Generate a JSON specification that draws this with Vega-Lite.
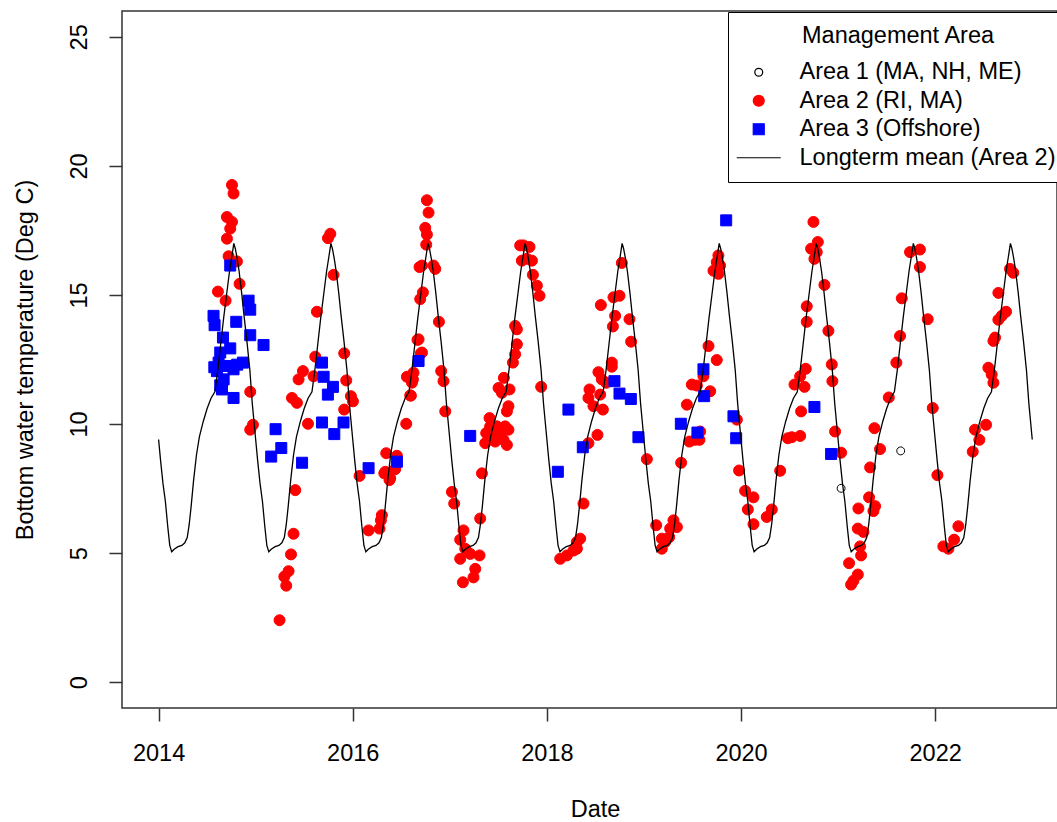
{
  "$schema": "https://vega.github.io/schema/vega-lite/v6.json",
  "autosize": {"type": "none"},
  "padding": {"left": 122, "top": 11, "right": 0, "bottom": 114},
  "width": 935,
  "height": 697,
  "background": "white",
  "datasets": {
    "yrs": [{"year":2015},{"year":2016},{"year":2017},{"year":2018},{"year":2019},{"year":2020},{"year":2021},{"year":2022},{"year":2023}],
    "obs": [
      {"year":2014.756,"temp":19.26,"area":"Area 2 (RI, MA)"},{"year":2014.772,"temp":18.93,"area":"Area 2 (RI, MA)"},{"year":2014.704,"temp":18.02,"area":"Area 2 (RI, MA)"},{"year":2014.756,"temp":17.83,"area":"Area 2 (RI, MA)"},{"year":2014.738,"temp":17.57,"area":"Area 2 (RI, MA)"},{"year":2014.704,"temp":17.18,"area":"Area 2 (RI, MA)"},{"year":2014.721,"temp":16.5,"area":"Area 2 (RI, MA)"},{"year":2014.807,"temp":16.3,"area":"Area 2 (RI, MA)"},{"year":2014.834,"temp":15.43,"area":"Area 2 (RI, MA)"},{"year":2014.611,"temp":15.13,"area":"Area 2 (RI, MA)"},{"year":2014.69,"temp":14.78,"area":"Area 2 (RI, MA)"},{"year":2014.944,"temp":11.25,"area":"Area 2 (RI, MA)"},{"year":2014.972,"temp":9.97,"area":"Area 2 (RI, MA)"},{"year":2014.944,"temp":9.78,"area":"Area 2 (RI, MA)"},
      {"year":2015.631,"temp":14.35,"area":"Area 2 (RI, MA)"},{"year":2015.614,"temp":12.61,"area":"Area 2 (RI, MA)"},{"year":2015.596,"temp":11.85,"area":"Area 2 (RI, MA)"},{"year":2015.487,"temp":12.05,"area":"Area 2 (RI, MA)"},{"year":2015.442,"temp":11.73,"area":"Area 2 (RI, MA)"},{"year":2015.374,"temp":11.01,"area":"Area 2 (RI, MA)"},{"year":2015.425,"temp":10.82,"area":"Area 2 (RI, MA)"},{"year":2015.539,"temp":10.01,"area":"Area 2 (RI, MA)"},{"year":2015.769,"temp":17.37,"area":"Area 2 (RI, MA)"},{"year":2015.745,"temp":17.2,"area":"Area 2 (RI, MA)"},{"year":2015.802,"temp":15.78,"area":"Area 2 (RI, MA)"},{"year":2015.408,"temp":7.44,"area":"Area 2 (RI, MA)"},{"year":2015.39,"temp":5.75,"area":"Area 2 (RI, MA)"},{"year":2015.364,"temp":4.95,"area":"Area 2 (RI, MA)"},{"year":2015.339,"temp":4.3,"area":"Area 2 (RI, MA)"},{"year":2015.295,"temp":4.09,"area":"Area 2 (RI, MA)"},{"year":2015.315,"temp":3.74,"area":"Area 2 (RI, MA)"},{"year":2015.246,"temp":2.4,"area":"Area 2 (RI, MA)"},{"year":2015.912,"temp":12.74,"area":"Area 2 (RI, MA)"},{"year":2015.933,"temp":11.69,"area":"Area 2 (RI, MA)"},{"year":2015.981,"temp":11.08,"area":"Area 2 (RI, MA)"},{"year":2016.002,"temp":10.88,"area":"Area 2 (RI, MA)"},{"year":2015.912,"temp":10.56,"area":"Area 2 (RI, MA)"},
      {"year":2016.07,"temp":7.99,"area":"Area 2 (RI, MA)"},{"year":2016.163,"temp":5.88,"area":"Area 2 (RI, MA)"},{"year":2016.276,"temp":5.95,"area":"Area 2 (RI, MA)"},{"year":2016.3,"temp":6.47,"area":"Area 2 (RI, MA)"},{"year":2016.29,"temp":6.27,"area":"Area 2 (RI, MA)"},{"year":2016.345,"temp":8.87,"area":"Area 2 (RI, MA)"},{"year":2016.325,"temp":8.09,"area":"Area 2 (RI, MA)"},{"year":2016.379,"temp":7.83,"area":"Area 2 (RI, MA)"},{"year":2016.437,"temp":8.25,"area":"Area 2 (RI, MA)"},{"year":2016.455,"temp":8.77,"area":"Area 2 (RI, MA)"},{"year":2016.551,"temp":10.01,"area":"Area 2 (RI, MA)"},{"year":2016.599,"temp":11.1,"area":"Area 2 (RI, MA)"},{"year":2016.558,"temp":11.83,"area":"Area 2 (RI, MA)"},{"year":2016.62,"temp":11.73,"area":"Area 2 (RI, MA)"},{"year":2016.626,"temp":11.99,"area":"Area 2 (RI, MA)"},{"year":2016.678,"temp":13.28,"area":"Area 2 (RI, MA)"},{"year":2016.713,"temp":12.77,"area":"Area 2 (RI, MA)"},{"year":2016.695,"temp":14.84,"area":"Area 2 (RI, MA)"},{"year":2016.764,"temp":18.67,"area":"Area 2 (RI, MA)"},{"year":2016.781,"temp":18.19,"area":"Area 2 (RI, MA)"},{"year":2016.747,"temp":17.6,"area":"Area 2 (RI, MA)"},{"year":2016.764,"temp":17.34,"area":"Area 2 (RI, MA)"},{"year":2016.757,"temp":16.95,"area":"Area 2 (RI, MA)"},{"year":2016.688,"temp":16.08,"area":"Area 2 (RI, MA)"},{"year":2016.713,"temp":16.14,"area":"Area 2 (RI, MA)"},{"year":2016.832,"temp":16.14,"area":"Area 2 (RI, MA)"},{"year":2016.85,"temp":16.01,"area":"Area 2 (RI, MA)"},{"year":2016.723,"temp":15.1,"area":"Area 2 (RI, MA)"},{"year":2016.888,"temp":13.96,"area":"Area 2 (RI, MA)"},{"year":2016.667,"temp":13.26,"area":"Area 2 (RI, MA)"},{"year":2016.702,"temp":12.74,"area":"Area 2 (RI, MA)"},{"year":2016.592,"temp":11.11,"area":"Area 2 (RI, MA)"},{"year":2016.61,"temp":11.6,"area":"Area 2 (RI, MA)"},{"year":2016.911,"temp":12.05,"area":"Area 2 (RI, MA)"},{"year":2016.935,"temp":11.66,"area":"Area 2 (RI, MA)"},{"year":2016.953,"temp":10.49,"area":"Area 2 (RI, MA)"},{"year":2016.335,"temp":8.15,"area":"Area 2 (RI, MA)"},{"year":2016.386,"temp":7.9,"area":"Area 2 (RI, MA)"},
      {"year":2017.022,"temp":7.37,"area":"Area 2 (RI, MA)"},{"year":2017.045,"temp":6.92,"area":"Area 2 (RI, MA)"},{"year":2017.141,"temp":5.88,"area":"Area 2 (RI, MA)"},{"year":2017.107,"temp":5.52,"area":"Area 2 (RI, MA)"},{"year":2017.159,"temp":5.17,"area":"Area 2 (RI, MA)"},{"year":2017.107,"temp":4.78,"area":"Area 2 (RI, MA)"},{"year":2017.21,"temp":4.97,"area":"Area 2 (RI, MA)"},{"year":2017.306,"temp":4.91,"area":"Area 2 (RI, MA)"},{"year":2017.262,"temp":4.39,"area":"Area 2 (RI, MA)"},{"year":2017.244,"temp":4.06,"area":"Area 2 (RI, MA)"},{"year":2017.135,"temp":3.87,"area":"Area 2 (RI, MA)"},{"year":2017.313,"temp":6.34,"area":"Area 2 (RI, MA)"},{"year":2017.331,"temp":8.09,"area":"Area 2 (RI, MA)"},{"year":2017.365,"temp":9.26,"area":"Area 2 (RI, MA)"},{"year":2017.375,"temp":9.65,"area":"Area 2 (RI, MA)"},{"year":2017.409,"temp":10.23,"area":"Area 2 (RI, MA)"},{"year":2017.415,"temp":9.9,"area":"Area 2 (RI, MA)"},{"year":2017.485,"temp":9.91,"area":"Area 2 (RI, MA)"},{"year":2017.519,"temp":9.65,"area":"Area 2 (RI, MA)"},{"year":2017.553,"temp":9.39,"area":"Area 2 (RI, MA)"},{"year":2017.588,"temp":9.19,"area":"Area 2 (RI, MA)"},{"year":2017.45,"temp":9.58,"area":"Area 2 (RI, MA)"},{"year":2017.468,"temp":9.32,"area":"Area 2 (RI, MA)"},{"year":2017.57,"temp":9.91,"area":"Area 2 (RI, MA)"},{"year":2017.604,"temp":9.78,"area":"Area 2 (RI, MA)"},{"year":2017.588,"temp":10.49,"area":"Area 2 (RI, MA)"},{"year":2017.604,"temp":10.69,"area":"Area 2 (RI, MA)"},{"year":2017.537,"temp":11.21,"area":"Area 2 (RI, MA)"},{"year":2017.615,"temp":11.34,"area":"Area 2 (RI, MA)"},{"year":2017.557,"temp":11.79,"area":"Area 2 (RI, MA)"},{"year":2017.502,"temp":11.4,"area":"Area 2 (RI, MA)"},{"year":2017.65,"temp":12.38,"area":"Area 2 (RI, MA)"},{"year":2017.673,"temp":12.7,"area":"Area 2 (RI, MA)"},{"year":2017.691,"temp":13.09,"area":"Area 2 (RI, MA)"},{"year":2017.691,"temp":13.67,"area":"Area 2 (RI, MA)"},{"year":2017.673,"temp":13.8,"area":"Area 2 (RI, MA)"},{"year":2017.725,"temp":16.92,"area":"Area 2 (RI, MA)"},{"year":2017.759,"temp":16.92,"area":"Area 2 (RI, MA)"},{"year":2017.821,"temp":16.86,"area":"Area 2 (RI, MA)"},{"year":2017.742,"temp":16.33,"area":"Area 2 (RI, MA)"},{"year":2017.794,"temp":16.4,"area":"Area 2 (RI, MA)"},{"year":2017.846,"temp":16.33,"area":"Area 2 (RI, MA)"},{"year":2017.856,"temp":15.78,"area":"Area 2 (RI, MA)"},{"year":2017.897,"temp":15.36,"area":"Area 2 (RI, MA)"},{"year":2017.924,"temp":14.97,"area":"Area 2 (RI, MA)"},{"year":2017.941,"temp":11.44,"area":"Area 2 (RI, MA)"},
      {"year":2018.137,"temp":4.78,"area":"Area 2 (RI, MA)"},{"year":2018.206,"temp":4.91,"area":"Area 2 (RI, MA)"},{"year":2018.309,"temp":5.43,"area":"Area 2 (RI, MA)"},{"year":2018.309,"temp":5.17,"area":"Area 2 (RI, MA)"},{"year":2018.274,"temp":5.1,"area":"Area 2 (RI, MA)"},{"year":2018.343,"temp":5.56,"area":"Area 2 (RI, MA)"},{"year":2018.377,"temp":6.92,"area":"Area 2 (RI, MA)"},{"year":2018.428,"temp":9.26,"area":"Area 2 (RI, MA)"},{"year":2018.521,"temp":9.58,"area":"Area 2 (RI, MA)"},{"year":2018.577,"temp":10.56,"area":"Area 2 (RI, MA)"},{"year":2018.48,"temp":10.69,"area":"Area 2 (RI, MA)"},{"year":2018.549,"temp":11.14,"area":"Area 2 (RI, MA)"},{"year":2018.428,"temp":11.01,"area":"Area 2 (RI, MA)"},{"year":2018.439,"temp":11.34,"area":"Area 2 (RI, MA)"},{"year":2018.611,"temp":11.6,"area":"Area 2 (RI, MA)"},{"year":2018.566,"temp":11.73,"area":"Area 2 (RI, MA)"},{"year":2018.531,"temp":12.01,"area":"Area 2 (RI, MA)"},{"year":2018.669,"temp":12.38,"area":"Area 2 (RI, MA)"},{"year":2018.669,"temp":12.22,"area":"Area 2 (RI, MA)"},{"year":2018.868,"temp":13.19,"area":"Area 2 (RI, MA)"},{"year":2018.851,"temp":14.06,"area":"Area 2 (RI, MA)"},{"year":2018.68,"temp":13.78,"area":"Area 2 (RI, MA)"},{"year":2018.703,"temp":14.19,"area":"Area 2 (RI, MA)"},{"year":2018.556,"temp":14.61,"area":"Area 2 (RI, MA)"},{"year":2018.686,"temp":14.91,"area":"Area 2 (RI, MA)"},{"year":2018.748,"temp":14.97,"area":"Area 2 (RI, MA)"},{"year":2018.772,"temp":16.24,"area":"Area 2 (RI, MA)"},
      {"year":2019.03,"temp":8.64,"area":"Area 2 (RI, MA)"},{"year":2019.126,"temp":6.08,"area":"Area 2 (RI, MA)"},{"year":2019.184,"temp":5.56,"area":"Area 2 (RI, MA)"},{"year":2019.218,"temp":5.43,"area":"Area 2 (RI, MA)"},{"year":2019.184,"temp":5.17,"area":"Area 2 (RI, MA)"},{"year":2019.27,"temp":5.95,"area":"Area 2 (RI, MA)"},{"year":2019.304,"temp":6.27,"area":"Area 2 (RI, MA)"},{"year":2019.339,"temp":6.01,"area":"Area 2 (RI, MA)"},{"year":2019.26,"temp":5.62,"area":"Area 2 (RI, MA)"},{"year":2019.383,"temp":8.5,"area":"Area 2 (RI, MA)"},{"year":2019.442,"temp":10.75,"area":"Area 2 (RI, MA)"},{"year":2019.493,"temp":11.53,"area":"Area 2 (RI, MA)"},{"year":2019.545,"temp":11.49,"area":"Area 2 (RI, MA)"},{"year":2019.468,"temp":9.32,"area":"Area 2 (RI, MA)"},{"year":2019.527,"temp":9.39,"area":"Area 2 (RI, MA)"},{"year":2019.579,"temp":9.71,"area":"Area 2 (RI, MA)"},{"year":2019.572,"temp":9.39,"area":"Area 2 (RI, MA)"},{"year":2019.682,"temp":11.27,"area":"Area 2 (RI, MA)"},{"year":2019.613,"temp":11.85,"area":"Area 2 (RI, MA)"},{"year":2019.665,"temp":13.02,"area":"Area 2 (RI, MA)"},{"year":2019.75,"temp":12.48,"area":"Area 2 (RI, MA)"},{"year":2019.767,"temp":16.53,"area":"Area 2 (RI, MA)"},{"year":2019.784,"temp":16.14,"area":"Area 2 (RI, MA)"},{"year":2019.716,"temp":15.94,"area":"Area 2 (RI, MA)"},{"year":2019.767,"temp":15.82,"area":"Area 2 (RI, MA)"},{"year":2019.75,"temp":16.27,"area":"Area 2 (RI, MA)"},{"year":2019.957,"temp":10.17,"area":"Area 2 (RI, MA)"},{"year":2019.98,"temp":8.2,"area":"Area 2 (RI, MA)"},
      {"year":2020.042,"temp":7.41,"area":"Area 2 (RI, MA)"},{"year":2020.128,"temp":7.16,"area":"Area 2 (RI, MA)"},{"year":2020.07,"temp":6.69,"area":"Area 2 (RI, MA)"},{"year":2020.128,"temp":6.12,"area":"Area 2 (RI, MA)"},{"year":2020.265,"temp":6.4,"area":"Area 2 (RI, MA)"},{"year":2020.317,"temp":6.69,"area":"Area 2 (RI, MA)"},{"year":2020.403,"temp":8.19,"area":"Area 2 (RI, MA)"},{"year":2020.482,"temp":9.45,"area":"Area 2 (RI, MA)"},{"year":2020.523,"temp":9.49,"area":"Area 2 (RI, MA)"},{"year":2020.609,"temp":9.54,"area":"Area 2 (RI, MA)"},{"year":2020.619,"temp":10.49,"area":"Area 2 (RI, MA)"},{"year":2020.667,"temp":12.14,"area":"Area 2 (RI, MA)"},{"year":2020.609,"temp":11.85,"area":"Area 2 (RI, MA)"},{"year":2020.551,"temp":11.53,"area":"Area 2 (RI, MA)"},{"year":2020.654,"temp":11.44,"area":"Area 2 (RI, MA)"},{"year":2020.677,"temp":14.56,"area":"Area 2 (RI, MA)"},{"year":2020.677,"temp":13.96,"area":"Area 2 (RI, MA)"},{"year":2020.746,"temp":17.83,"area":"Area 2 (RI, MA)"},{"year":2020.791,"temp":17.05,"area":"Area 2 (RI, MA)"},{"year":2020.722,"temp":16.79,"area":"Area 2 (RI, MA)"},{"year":2020.756,"temp":16.4,"area":"Area 2 (RI, MA)"},{"year":2020.78,"temp":16.66,"area":"Area 2 (RI, MA)"},{"year":2020.859,"temp":15.39,"area":"Area 2 (RI, MA)"},{"year":2020.9,"temp":13.61,"area":"Area 2 (RI, MA)"},{"year":2020.935,"temp":12.31,"area":"Area 2 (RI, MA)"},{"year":2020.941,"temp":11.66,"area":"Area 2 (RI, MA)"},{"year":2020.969,"temp":9.71,"area":"Area 2 (RI, MA)"},
      {"year":2021.031,"temp":8.89,"area":"Area 2 (RI, MA)"},{"year":2021.209,"temp":6.73,"area":"Area 2 (RI, MA)"},{"year":2021.319,"temp":7.16,"area":"Area 2 (RI, MA)"},{"year":2021.381,"temp":6.82,"area":"Area 2 (RI, MA)"},{"year":2021.364,"temp":6.63,"area":"Area 2 (RI, MA)"},{"year":2021.203,"temp":5.95,"area":"Area 2 (RI, MA)"},{"year":2021.261,"temp":5.82,"area":"Area 2 (RI, MA)"},{"year":2021.227,"temp":5.26,"area":"Area 2 (RI, MA)"},{"year":2021.237,"temp":4.91,"area":"Area 2 (RI, MA)"},{"year":2021.113,"temp":4.61,"area":"Area 2 (RI, MA)"},{"year":2021.203,"temp":4.17,"area":"Area 2 (RI, MA)"},{"year":2021.158,"temp":3.93,"area":"Area 2 (RI, MA)"},{"year":2021.134,"temp":3.78,"area":"Area 2 (RI, MA)"},{"year":2021.33,"temp":8.32,"area":"Area 2 (RI, MA)"},{"year":2021.374,"temp":9.84,"area":"Area 2 (RI, MA)"},{"year":2021.432,"temp":9.03,"area":"Area 2 (RI, MA)"},{"year":2021.522,"temp":11.03,"area":"Area 2 (RI, MA)"},{"year":2021.6,"temp":12.38,"area":"Area 2 (RI, MA)"},{"year":2021.638,"temp":13.41,"area":"Area 2 (RI, MA)"},{"year":2021.656,"temp":14.87,"area":"Area 2 (RI, MA)"},{"year":2021.741,"temp":16.66,"area":"Area 2 (RI, MA)"},{"year":2021.843,"temp":16.76,"area":"Area 2 (RI, MA)"},{"year":2021.843,"temp":16.08,"area":"Area 2 (RI, MA)"},{"year":2021.923,"temp":14.06,"area":"Area 2 (RI, MA)"},{"year":2021.975,"temp":10.62,"area":"Area 2 (RI, MA)"},
      {"year":2022.023,"temp":8.02,"area":"Area 2 (RI, MA)"},{"year":2022.084,"temp":5.26,"area":"Area 2 (RI, MA)"},{"year":2022.136,"temp":5.17,"area":"Area 2 (RI, MA)"},{"year":2022.195,"temp":5.52,"area":"Area 2 (RI, MA)"},{"year":2022.239,"temp":6.04,"area":"Area 2 (RI, MA)"},{"year":2022.387,"temp":8.93,"area":"Area 2 (RI, MA)"},{"year":2022.41,"temp":9.78,"area":"Area 2 (RI, MA)"},{"year":2022.455,"temp":9.39,"area":"Area 2 (RI, MA)"},{"year":2022.524,"temp":9.97,"area":"Area 2 (RI, MA)"},{"year":2022.548,"temp":12.18,"area":"Area 2 (RI, MA)"},{"year":2022.582,"temp":11.92,"area":"Area 2 (RI, MA)"},{"year":2022.6,"temp":11.6,"area":"Area 2 (RI, MA)"},{"year":2022.6,"temp":13.22,"area":"Area 2 (RI, MA)"},{"year":2022.617,"temp":13.35,"area":"Area 2 (RI, MA)"},{"year":2022.651,"temp":14.04,"area":"Area 2 (RI, MA)"},{"year":2022.686,"temp":14.19,"area":"Area 2 (RI, MA)"},{"year":2022.73,"temp":14.35,"area":"Area 2 (RI, MA)"},{"year":2022.651,"temp":15.08,"area":"Area 2 (RI, MA)"},{"year":2022.771,"temp":16.01,"area":"Area 2 (RI, MA)"},{"year":2022.805,"temp":15.86,"area":"Area 2 (RI, MA)"},
      {"year":2014.738,"temp":16.14,"area":"Area 3 (Offshore)"},{"year":2014.927,"temp":14.78,"area":"Area 3 (Offshore)"},{"year":2014.944,"temp":14.43,"area":"Area 3 (Offshore)"},{"year":2014.566,"temp":14.19,"area":"Area 3 (Offshore)"},{"year":2014.577,"temp":13.83,"area":"Area 3 (Offshore)"},{"year":2014.8,"temp":13.96,"area":"Area 3 (Offshore)"},{"year":2014.944,"temp":13.44,"area":"Area 3 (Offshore)"},{"year":2015.081,"temp":13.06,"area":"Area 3 (Offshore)"},{"year":2014.663,"temp":13.35,"area":"Area 3 (Offshore)"},{"year":2014.738,"temp":12.93,"area":"Area 3 (Offshore)"},{"year":2014.635,"temp":12.77,"area":"Area 3 (Offshore)"},{"year":2014.618,"temp":12.38,"area":"Area 3 (Offshore)"},{"year":2014.869,"temp":12.38,"area":"Area 3 (Offshore)"},{"year":2014.772,"temp":12.12,"area":"Area 3 (Offshore)"},{"year":2014.601,"temp":12.05,"area":"Area 3 (Offshore)"},{"year":2014.67,"temp":11.73,"area":"Area 3 (Offshore)"},{"year":2014.653,"temp":11.34,"area":"Area 3 (Offshore)"},{"year":2014.772,"temp":11.01,"area":"Area 3 (Offshore)"},{"year":2014.574,"temp":12.2,"area":"Area 3 (Offshore)"},{"year":2014.7,"temp":12.25,"area":"Area 3 (Offshore)"},{"year":2014.81,"temp":12.3,"area":"Area 3 (Offshore)"},{"year":2014.635,"temp":11.5,"area":"Area 3 (Offshore)"},
      {"year":2015.205,"temp":9.8,"area":"Area 3 (Offshore)"},{"year":2015.264,"temp":9.07,"area":"Area 3 (Offshore)"},{"year":2015.16,"temp":8.74,"area":"Area 3 (Offshore)"},{"year":2015.478,"temp":8.5,"area":"Area 3 (Offshore)"},{"year":2015.683,"temp":12.38,"area":"Area 3 (Offshore)"},{"year":2015.7,"temp":11.83,"area":"Area 3 (Offshore)"},{"year":2015.796,"temp":11.44,"area":"Area 3 (Offshore)"},{"year":2015.744,"temp":11.14,"area":"Area 3 (Offshore)"},{"year":2015.683,"temp":10.06,"area":"Area 3 (Offshore)"},{"year":2015.81,"temp":9.61,"area":"Area 3 (Offshore)"},{"year":2015.905,"temp":10.06,"area":"Area 3 (Offshore)"},{"year":2016.163,"temp":8.29,"area":"Area 3 (Offshore)"},{"year":2016.455,"temp":8.54,"area":"Area 3 (Offshore)"},{"year":2016.678,"temp":12.44,"area":"Area 3 (Offshore)"},{"year":2017.21,"temp":9.54,"area":"Area 3 (Offshore)"},{"year":2018.222,"temp":10.56,"area":"Area 3 (Offshore)"},{"year":2018.113,"temp":8.15,"area":"Area 3 (Offshore)"},{"year":2018.37,"temp":9.1,"area":"Area 3 (Offshore)"},{"year":2018.696,"temp":11.66,"area":"Area 3 (Offshore)"},{"year":2018.748,"temp":11.18,"area":"Area 3 (Offshore)"},{"year":2018.865,"temp":10.97,"area":"Area 3 (Offshore)"},{"year":2018.943,"temp":9.49,"area":"Area 3 (Offshore)"},{"year":2019.847,"temp":17.89,"area":"Area 3 (Offshore)"},{"year":2019.38,"temp":10.01,"area":"Area 3 (Offshore)"},{"year":2019.551,"temp":9.67,"area":"Area 3 (Offshore)"},{"year":2019.613,"temp":12.12,"area":"Area 3 (Offshore)"},{"year":2019.62,"temp":11.08,"area":"Area 3 (Offshore)"},{"year":2019.922,"temp":10.3,"area":"Area 3 (Offshore)"},{"year":2019.95,"temp":9.45,"area":"Area 3 (Offshore)"},{"year":2020.756,"temp":10.66,"area":"Area 3 (Offshore)"},{"year":2020.928,"temp":8.84,"area":"Area 3 (Offshore)"},
      {"year":2021.031,"temp":7.51,"area":"Area 1 (MA, NH, ME)"},{"year":2021.645,"temp":8.96,"area":"Area 1 (MA, NH, ME)"}
    ],
    "mean": [
      {"year":2014,"temp":9.4},{"year":2014.02,"temp":8.6},{"year":2014.045,"temp":7.7},{"year":2014.07,"temp":7.0},{"year":2014.095,"temp":6.0},{"year":2014.115,"temp":5.3},{"year":2014.135,"temp":5.05},{"year":2014.16,"temp":5.15},{"year":2014.2,"temp":5.25},{"year":2014.24,"temp":5.3},{"year":2014.27,"temp":5.4},{"year":2014.295,"temp":5.6},{"year":2014.315,"temp":6.1},{"year":2014.335,"temp":6.8},{"year":2014.36,"temp":7.8},{"year":2014.39,"temp":8.8},{"year":2014.42,"temp":9.5},{"year":2014.46,"temp":10.1},{"year":2014.5,"temp":10.6},{"year":2014.54,"temp":11.0},{"year":2014.58,"temp":11.25},{"year":2014.61,"temp":12.1},{"year":2014.64,"temp":13.1},{"year":2014.67,"temp":14.1},{"year":2014.7,"temp":15.0},{"year":2014.73,"temp":15.9},{"year":2014.755,"temp":16.5},{"year":2014.775,"temp":17.0},{"year":2014.79,"temp":16.8},{"year":2014.81,"temp":16.4},{"year":2014.83,"temp":15.9},{"year":2014.855,"temp":15.1},{"year":2014.88,"temp":14.2},{"year":2014.91,"temp":13.2},{"year":2014.94,"temp":12.1},{"year":2014.965,"temp":10.8},{"year":2014.985,"temp":10.0},
      {"year":2015,"temp":9.4},{"year":2015.02,"temp":8.6},{"year":2015.045,"temp":7.7},{"year":2015.07,"temp":7.0},{"year":2015.095,"temp":6.0},{"year":2015.115,"temp":5.3},{"year":2015.135,"temp":5.05},{"year":2015.16,"temp":5.15},{"year":2015.2,"temp":5.25},{"year":2015.24,"temp":5.3},{"year":2015.27,"temp":5.4},{"year":2015.295,"temp":5.6},{"year":2015.315,"temp":6.1},{"year":2015.335,"temp":6.8},{"year":2015.36,"temp":7.8},{"year":2015.39,"temp":8.8},{"year":2015.42,"temp":9.5},{"year":2015.46,"temp":10.1},{"year":2015.5,"temp":10.6},{"year":2015.54,"temp":11.0},{"year":2015.58,"temp":11.25},{"year":2015.61,"temp":12.1},{"year":2015.64,"temp":13.1},{"year":2015.67,"temp":14.1},{"year":2015.7,"temp":15.0},{"year":2015.73,"temp":15.9},{"year":2015.755,"temp":16.5},{"year":2015.775,"temp":17.0},{"year":2015.79,"temp":16.8},{"year":2015.81,"temp":16.4},{"year":2015.83,"temp":15.9},{"year":2015.855,"temp":15.1},{"year":2015.88,"temp":14.2},{"year":2015.91,"temp":13.2},{"year":2015.94,"temp":12.1},{"year":2015.965,"temp":10.8},{"year":2015.985,"temp":10.0},
      {"year":2016,"temp":9.4},{"year":2016.02,"temp":8.6},{"year":2016.045,"temp":7.7},{"year":2016.07,"temp":7.0},{"year":2016.095,"temp":6.0},{"year":2016.115,"temp":5.3},{"year":2016.135,"temp":5.05},{"year":2016.16,"temp":5.15},{"year":2016.2,"temp":5.25},{"year":2016.24,"temp":5.3},{"year":2016.27,"temp":5.4},{"year":2016.295,"temp":5.6},{"year":2016.315,"temp":6.1},{"year":2016.335,"temp":6.8},{"year":2016.36,"temp":7.8},{"year":2016.39,"temp":8.8},{"year":2016.42,"temp":9.5},{"year":2016.46,"temp":10.1},{"year":2016.5,"temp":10.6},{"year":2016.54,"temp":11.0},{"year":2016.58,"temp":11.25},{"year":2016.61,"temp":12.1},{"year":2016.64,"temp":13.1},{"year":2016.67,"temp":14.1},{"year":2016.7,"temp":15.0},{"year":2016.73,"temp":15.9},{"year":2016.755,"temp":16.5},{"year":2016.775,"temp":17.0},{"year":2016.79,"temp":16.8},{"year":2016.81,"temp":16.4},{"year":2016.83,"temp":15.9},{"year":2016.855,"temp":15.1},{"year":2016.88,"temp":14.2},{"year":2016.91,"temp":13.2},{"year":2016.94,"temp":12.1},{"year":2016.965,"temp":10.8},{"year":2016.985,"temp":10.0},
      {"year":2017,"temp":9.4},{"year":2017.02,"temp":8.6},{"year":2017.045,"temp":7.7},{"year":2017.07,"temp":7.0},{"year":2017.095,"temp":6.0},{"year":2017.115,"temp":5.3},{"year":2017.135,"temp":5.05},{"year":2017.16,"temp":5.15},{"year":2017.2,"temp":5.25},{"year":2017.24,"temp":5.3},{"year":2017.27,"temp":5.4},{"year":2017.295,"temp":5.6},{"year":2017.315,"temp":6.1},{"year":2017.335,"temp":6.8},{"year":2017.36,"temp":7.8},{"year":2017.39,"temp":8.8},{"year":2017.42,"temp":9.5},{"year":2017.46,"temp":10.1},{"year":2017.5,"temp":10.6},{"year":2017.54,"temp":11.0},{"year":2017.58,"temp":11.25},{"year":2017.61,"temp":12.1},{"year":2017.64,"temp":13.1},{"year":2017.67,"temp":14.1},{"year":2017.7,"temp":15.0},{"year":2017.73,"temp":15.9},{"year":2017.755,"temp":16.5},{"year":2017.775,"temp":17.0},{"year":2017.79,"temp":16.8},{"year":2017.81,"temp":16.4},{"year":2017.83,"temp":15.9},{"year":2017.855,"temp":15.1},{"year":2017.88,"temp":14.2},{"year":2017.91,"temp":13.2},{"year":2017.94,"temp":12.1},{"year":2017.965,"temp":10.8},{"year":2017.985,"temp":10.0},
      {"year":2018,"temp":9.4},{"year":2018.02,"temp":8.6},{"year":2018.045,"temp":7.7},{"year":2018.07,"temp":7.0},{"year":2018.095,"temp":6.0},{"year":2018.115,"temp":5.3},{"year":2018.135,"temp":5.05},{"year":2018.16,"temp":5.15},{"year":2018.2,"temp":5.25},{"year":2018.24,"temp":5.3},{"year":2018.27,"temp":5.4},{"year":2018.295,"temp":5.6},{"year":2018.315,"temp":6.1},{"year":2018.335,"temp":6.8},{"year":2018.36,"temp":7.8},{"year":2018.39,"temp":8.8},{"year":2018.42,"temp":9.5},{"year":2018.46,"temp":10.1},{"year":2018.5,"temp":10.6},{"year":2018.54,"temp":11.0},{"year":2018.58,"temp":11.25},{"year":2018.61,"temp":12.1},{"year":2018.64,"temp":13.1},{"year":2018.67,"temp":14.1},{"year":2018.7,"temp":15.0},{"year":2018.73,"temp":15.9},{"year":2018.755,"temp":16.5},{"year":2018.775,"temp":17.0},{"year":2018.79,"temp":16.8},{"year":2018.81,"temp":16.4},{"year":2018.83,"temp":15.9},{"year":2018.855,"temp":15.1},{"year":2018.88,"temp":14.2},{"year":2018.91,"temp":13.2},{"year":2018.94,"temp":12.1},{"year":2018.965,"temp":10.8},{"year":2018.985,"temp":10.0},
      {"year":2019,"temp":9.4},{"year":2019.02,"temp":8.6},{"year":2019.045,"temp":7.7},{"year":2019.07,"temp":7.0},{"year":2019.095,"temp":6.0},{"year":2019.115,"temp":5.3},{"year":2019.135,"temp":5.05},{"year":2019.16,"temp":5.15},{"year":2019.2,"temp":5.25},{"year":2019.24,"temp":5.3},{"year":2019.27,"temp":5.4},{"year":2019.295,"temp":5.6},{"year":2019.315,"temp":6.1},{"year":2019.335,"temp":6.8},{"year":2019.36,"temp":7.8},{"year":2019.39,"temp":8.8},{"year":2019.42,"temp":9.5},{"year":2019.46,"temp":10.1},{"year":2019.5,"temp":10.6},{"year":2019.54,"temp":11.0},{"year":2019.58,"temp":11.25},{"year":2019.61,"temp":12.1},{"year":2019.64,"temp":13.1},{"year":2019.67,"temp":14.1},{"year":2019.7,"temp":15.0},{"year":2019.73,"temp":15.9},{"year":2019.755,"temp":16.5},{"year":2019.775,"temp":17.0},{"year":2019.79,"temp":16.8},{"year":2019.81,"temp":16.4},{"year":2019.83,"temp":15.9},{"year":2019.855,"temp":15.1},{"year":2019.88,"temp":14.2},{"year":2019.91,"temp":13.2},{"year":2019.94,"temp":12.1},{"year":2019.965,"temp":10.8},{"year":2019.985,"temp":10.0},
      {"year":2020,"temp":9.4},{"year":2020.02,"temp":8.6},{"year":2020.045,"temp":7.7},{"year":2020.07,"temp":7.0},{"year":2020.095,"temp":6.0},{"year":2020.115,"temp":5.3},{"year":2020.135,"temp":5.05},{"year":2020.16,"temp":5.15},{"year":2020.2,"temp":5.25},{"year":2020.24,"temp":5.3},{"year":2020.27,"temp":5.4},{"year":2020.295,"temp":5.6},{"year":2020.315,"temp":6.1},{"year":2020.335,"temp":6.8},{"year":2020.36,"temp":7.8},{"year":2020.39,"temp":8.8},{"year":2020.42,"temp":9.5},{"year":2020.46,"temp":10.1},{"year":2020.5,"temp":10.6},{"year":2020.54,"temp":11.0},{"year":2020.58,"temp":11.25},{"year":2020.61,"temp":12.1},{"year":2020.64,"temp":13.1},{"year":2020.67,"temp":14.1},{"year":2020.7,"temp":15.0},{"year":2020.73,"temp":15.9},{"year":2020.755,"temp":16.5},{"year":2020.775,"temp":17.0},{"year":2020.79,"temp":16.8},{"year":2020.81,"temp":16.4},{"year":2020.83,"temp":15.9},{"year":2020.855,"temp":15.1},{"year":2020.88,"temp":14.2},{"year":2020.91,"temp":13.2},{"year":2020.94,"temp":12.1},{"year":2020.965,"temp":10.8},{"year":2020.985,"temp":10.0},
      {"year":2021,"temp":9.4},{"year":2021.02,"temp":8.6},{"year":2021.045,"temp":7.7},{"year":2021.07,"temp":7.0},{"year":2021.095,"temp":6.0},{"year":2021.115,"temp":5.3},{"year":2021.135,"temp":5.05},{"year":2021.16,"temp":5.15},{"year":2021.2,"temp":5.25},{"year":2021.24,"temp":5.3},{"year":2021.27,"temp":5.4},{"year":2021.295,"temp":5.6},{"year":2021.315,"temp":6.1},{"year":2021.335,"temp":6.8},{"year":2021.36,"temp":7.8},{"year":2021.39,"temp":8.8},{"year":2021.42,"temp":9.5},{"year":2021.46,"temp":10.1},{"year":2021.5,"temp":10.6},{"year":2021.54,"temp":11.0},{"year":2021.58,"temp":11.25},{"year":2021.61,"temp":12.1},{"year":2021.64,"temp":13.1},{"year":2021.67,"temp":14.1},{"year":2021.7,"temp":15.0},{"year":2021.73,"temp":15.9},{"year":2021.755,"temp":16.5},{"year":2021.775,"temp":17.0},{"year":2021.79,"temp":16.8},{"year":2021.81,"temp":16.4},{"year":2021.83,"temp":15.9},{"year":2021.855,"temp":15.1},{"year":2021.88,"temp":14.2},{"year":2021.91,"temp":13.2},{"year":2021.94,"temp":12.1},{"year":2021.965,"temp":10.8},{"year":2021.985,"temp":10.0},
      {"year":2022,"temp":9.4},{"year":2022.02,"temp":8.6},{"year":2022.045,"temp":7.7},{"year":2022.07,"temp":7.0},{"year":2022.095,"temp":6.0},{"year":2022.115,"temp":5.3},{"year":2022.135,"temp":5.05},{"year":2022.16,"temp":5.15},{"year":2022.2,"temp":5.25},{"year":2022.24,"temp":5.3},{"year":2022.27,"temp":5.4},{"year":2022.295,"temp":5.6},{"year":2022.315,"temp":6.1},{"year":2022.335,"temp":6.8},{"year":2022.36,"temp":7.8},{"year":2022.39,"temp":8.8},{"year":2022.42,"temp":9.5},{"year":2022.46,"temp":10.1},{"year":2022.5,"temp":10.6},{"year":2022.54,"temp":11.0},{"year":2022.58,"temp":11.25},{"year":2022.61,"temp":12.1},{"year":2022.64,"temp":13.1},{"year":2022.67,"temp":14.1},{"year":2022.7,"temp":15.0},{"year":2022.73,"temp":15.9},{"year":2022.755,"temp":16.5},{"year":2022.775,"temp":17.0},{"year":2022.79,"temp":16.8},{"year":2022.81,"temp":16.4},{"year":2022.83,"temp":15.9},{"year":2022.855,"temp":15.1},{"year":2022.88,"temp":14.2},{"year":2022.91,"temp":13.2},{"year":2022.94,"temp":12.1},{"year":2022.965,"temp":10.8},{"year":2022.985,"temp":10.0},
      {"year":2023,"temp":9.4}
    ]
  },
  "layer": [
    {
      "data": {"name": "yrs"},
      "mark": {"type": "rule", "color": "#c4c4c4", "strokeDash": [8, 5], "strokeWidth": 1.3},
      "encoding": {
        "x": {"field": "year", "type": "quantitative"}
      }
    },
    {
      "data": {"name": "obs"},
      "mark": {"type": "point", "opacity": 1, "strokeWidth": 1, "size": 121},
      "encoding": {
        "x": {"field": "year", "type": "quantitative"},
        "y": {"field": "temp", "type": "quantitative"},
        "fill": {"field": "area", "type": "nominal", "title": "Management Area",
          "scale": {"domain": ["Area 1 (MA, NH, ME)", "Area 2 (RI, MA)", "Area 3 (Offshore)", "Longterm mean (Area 2)"],
                    "range": ["transparent", "#ff0000", "#0000ff", "transparent"]}},
        "stroke": {"field": "area", "type": "nominal", "title": "Management Area",
          "scale": {"domain": ["Area 1 (MA, NH, ME)", "Area 2 (RI, MA)", "Area 3 (Offshore)", "Longterm mean (Area 2)"],
                    "range": ["#000000", "#ff0000", "#0000ff", "#000000"]}},
        "shape": {"field": "area", "type": "nominal", "title": "Management Area",
          "scale": {"domain": ["Area 1 (MA, NH, ME)", "Area 2 (RI, MA)", "Area 3 (Offshore)", "Longterm mean (Area 2)"],
                    "range": ["M0.72,0A0.72,0.72,0,1,1,-0.72,0A0.72,0.72,0,1,1,0.72,0Z", "circle", "square", "M-4,0H4"]}}
      }
    },
    {
      "data": {"name": "mean"},
      "mark": {"type": "line", "color": "#000000", "strokeWidth": 1.3},
      "encoding": {
        "x": {"field": "year", "type": "quantitative"},
        "y": {"field": "temp", "type": "quantitative"}
      }
    }
  ],
  "encoding": {
    "x": {"field": "year", "type": "quantitative",
      "scale": {"domain": [2013.623, 2023.255], "nice": false, "zero": false},
      "axis": {"values": [2014, 2016, 2018, 2020, 2022], "format": "d", "title": "Date",
               "labelPadding": 20, "titlePadding": 33, "titleX": 473}},
    "y": {"field": "temp", "type": "quantitative",
      "scale": {"domain": [-1, 26], "nice": false, "zero": false},
      "axis": {"values": [0, 5, 10, 15, 20, 25], "title": "Bottom water temperature (Deg C)",
               "labelAngle": -90, "labelAlign": "center", "labelBaseline": "middle", "labelPadding": 30,
               "titleX": -90, "titleBaseline": "alphabetic", "titleAngle": -90}}
  },
  "config": {
    "font": "Liberation Sans",
    "view": {"stroke": "#333333", "strokeWidth": 1.5},
    "axis": {
      "domain": false, "grid": false,
      "labelFont": "Liberation Sans", "labelFontSize": 23.5, "labelColor": "#000000",
      "titleFont": "Liberation Sans", "titleFontSize": 23.5, "titleFontWeight": "normal", "titleColor": "#000000",
      "tickColor": "#333333", "tickWidth": 1.5, "tickSize": 13, "labelFlush": false, "labelOverlap": false
    },
    "legend": {
      "orient": "none", "legendX": 606, "legendY": 1,
      "strokeColor": "#000000", "fillColor": "#ffffff", "padding": 12,
      "titleFont": "Liberation Sans", "titleFontSize": 23.5, "titleFontWeight": "normal", "titleColor": "#000000",
      "titleAnchor": "middle", "titlePadding": 13, "titleLimit": 500,
      "labelFont": "Liberation Sans", "labelFontSize": 23.5, "labelColor": "#000000", "labelLimit": 0,
      "labelOffset": 29, "rowPadding": 3.5, "symbolSize": 121, "symbolStrokeWidth": 1.2, "symbolOffset": 7
    }
  }
}
